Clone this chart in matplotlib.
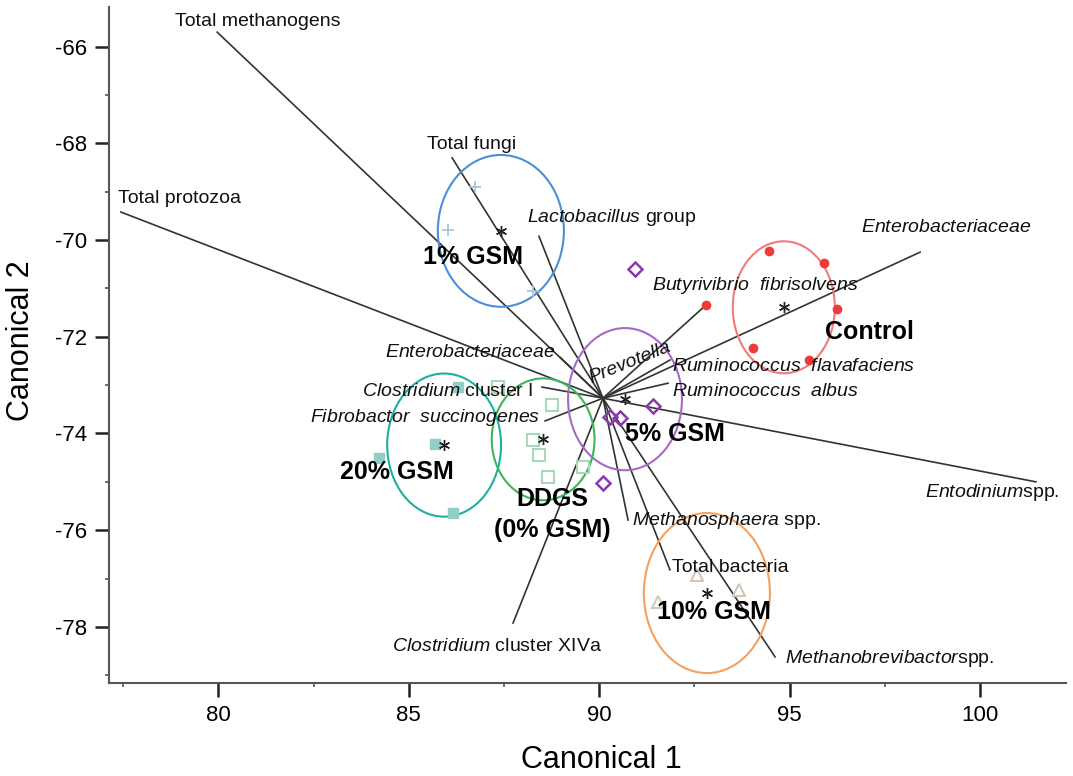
import numpy as np
import matplotlib.pyplot as plt
from matplotlib.patches import Ellipse

plt.rcParams['font.family'] = ['Liberation Sans', 'DejaVu Sans']
plt.rcParams['mathtext.fontset'] = 'custom'
plt.rcParams['mathtext.rm'] = 'Liberation Sans'
plt.rcParams['mathtext.it'] = 'Liberation Sans:italic'
plt.rcParams['axes.unicode_minus'] = False

# grand mean, where all the vectors start
origin = (90.10, -73.27)

# treatment groups
group_names = ['Control', '1% GSM', '5% GSM', '10% GSM', '20% GSM', 'DDGS\n(0% GSM)']
mean_x = [94.85, 87.42, 90.68, 92.83, 85.93, 88.53]
mean_y = [-71.39, -69.81, -73.29, -77.30, -74.24, -74.12]
circle_w = [2.68, 3.31, 2.99, 3.31, 2.99, 2.70]
circle_h = [2.73, 3.14, 2.94, 3.31, 2.96, 2.52]

# individual animals per group
control_x = [94.46, 95.90, 96.25, 94.04, 95.51, 92.81]
control_y = [-70.23, -70.48, -71.43, -72.23, -72.48, -71.34]
gsm1_x = [86.74, 86.03, 88.26]
gsm1_y = [-68.90, -69.79, -71.05]
gsm5_x = [90.28, 90.55, 91.41, 90.10, 90.94]
gsm5_y = [-73.66, -73.68, -73.43, -75.02, -70.60]
gsm10_x = [91.54, 93.67, 92.57]
gsm10_y = [-77.49, -77.24, -76.93]
gsm20_x = [86.29, 85.69, 84.22, 86.16]
gsm20_y = [-73.04, -74.22, -74.51, -75.65]
ddgs_x = [87.34, 88.76, 88.26, 88.42, 88.66, 89.58]
ddgs_y = [-73.04, -73.41, -74.13, -74.45, -74.90, -74.69]

# microbial vectors (end points)
ray_names = ['Total methanogens', 'Total protozoa', 'Total fungi', 'Lactobacillus group',
             'Enterobacteriaceae', 'Clostridium cluster I', 'Fibrobactor succinogenes',
             'Clostridium cluster XIVa', 'Methanosphaera spp.', 'Total bacteria',
             'Methanobrevibactor spp.', 'Entodinium spp.', 'Ruminococcus albus',
             'Ruminococcus flavafaciens', 'Butyrivibrio fibrisolvens', 'Enterobacteriaceae']
ray_x = [79.97, 77.44, 86.14, 88.42, 88.97, 88.50, 88.58, 87.74, 90.76, 91.86,
         94.62, 101.47, 91.81, 91.86, 92.81, 98.43]
ray_y = [-65.70, -69.42, -68.30, -69.92, -72.42, -73.04, -73.74, -77.92, -75.79, -76.82,
         -78.62, -75.00, -72.96, -72.48, -71.34, -70.25]

# vector labels: text, x, y, ha
vec_labels = [
    ('Total methanogens', 78.86, -65.49, 'left'),
    ('Total protozoa', 77.37, -69.15, 'left'),
    ('Total fungi', 85.48, -68.03, 'left'),
    (r'$Lactobacillus$ group', 88.11, -69.54, 'left'),
    (r'$Butyrivibrio\ \ fibrisolvens$', 96.80, -70.93, 'right'),
    (r'$Enterobacteriaceae$', 96.87, -69.73, 'left'),
    (r'$Ruminococcus\ \ flavafaciens$', 91.91, -72.61, 'left'),
    (r'$Ruminococcus\ \ albus$', 91.91, -73.14, 'left'),
    (r'$Enterobacteriaceae$', 88.84, -72.32, 'right'),
    (r'$Clostridium$ cluster I', 88.26, -73.14, 'right'),
    (r'$Fibrobactor\ \ succinogenes$', 88.45, -73.66, 'right'),
    (r'$Methanosphaera$ spp.', 90.86, -75.79, 'left'),
    ('Total bacteria', 91.91, -76.78, 'left'),
    (r'$Methanobrevibactor$spp.', 94.88, -78.66, 'left'),
    (r'$Entodinium$spp.', 98.56, -75.23, 'left'),
    (r'$Clostridium$ cluster XIVa', 84.56, -78.41, 'left'),
]

# where the group names sit
group_label_x = [95.93, 85.37, 90.68, 91.52, 83.19, 88.76]
group_label_y = [-71.90, -70.35, -74.01, -77.69, -74.80, -75.68]
group_label_ha = ['left', 'left', 'left', 'left', 'left', 'center']

circle_colors = ['#f27a7a', '#4a8fd8', '#a868c8', '#f4a060', '#1bb0a0', '#3cb45a']

fig = plt.figure(figsize=(10.73, 7.76), dpi=100)
ax = fig.add_axes([109 / 1073, 1 - 683 / 776, 957 / 1073, 676 / 776])

# vectors
for ex, ey in zip(ray_x, ray_y):
    ax.plot([origin[0], ex], [origin[1], ey], color='#333333', lw=1.2, zorder=2)

for txt, tx, ty, ha in vec_labels:
    ax.text(tx, ty, txt, ha=ha, va='center', fontsize=14, color='#111111', zorder=5)
ax.text(90.81, -72.54, 'Prevotella', style='italic', fontsize=14, rotation=22,
        ha='center', va='center', color='#111111', zorder=5)

# group circles and means
for i in range(len(group_names)):
    ax.add_patch(Ellipse((mean_x[i], mean_y[i]), circle_w[i], circle_h[i], fill=False,
                         edgecolor=circle_colors[i], lw=1.5, zorder=3))
    ax.plot(mean_x[i], mean_y[i], marker=(6, 2, 0), color='#222222', ms=8, mew=1.0, zorder=6)
    ax.text(group_label_x[i], group_label_y[i], group_names[i], ha=group_label_ha[i],
            va='center', fontsize=18, fontweight='bold', linespacing=1.35, zorder=6)

# individual points
ax.plot(control_x, control_y, 'o', color='#f03a3a', ms=6, zorder=4)
ax.plot(gsm1_x, gsm1_y, '+', color='#aac4e6', ms=9, mew=1.3, zorder=4)
ax.plot(gsm5_x, gsm5_y, 'D', mfc='none', mec='#8a3aa8', ms=7, mew=1.8, zorder=4)
ax.plot(gsm10_x, gsm10_y, '^', mfc='none', mec='#d6c6b8', ms=8, mew=1.5, zorder=4)
ax.plot(gsm20_x, gsm20_y, 's', color='#92cdc6', ms=7, zorder=4)
ax.plot(ddgs_x, ddgs_y, 's', mfc='none', mec='#a8d8b8', ms=9, mew=1.5, zorder=4)

ax.set_xlim(77.13, 102.26)
ax.set_ylim(-79.16, -65.18)
ax.set_xticks([80, 85, 90, 95, 100])
ax.set_xticks([77.5, 82.5, 87.5, 92.5, 97.5], minor=True)
ax.set_yticks([-66, -68, -70, -72, -74, -76, -78])
ax.set_yticks([-67, -69, -71, -73, -75, -77, -79], minor=True)
ax.tick_params(which='major', length=10, width=1.8, labelsize=16, color='#222222', pad=6)
ax.tick_params(which='minor', length=3, width=1.2, color='#555555')
for s in ['top', 'right']:
    ax.spines[s].set_visible(False)
for s in ['left', 'bottom']:
    ax.spines[s].set_color('#555555')
    ax.spines[s].set_linewidth(1.5)

ax.set_xlabel('Canonical 1', fontsize=22)
ax.set_ylabel('Canonical 2', fontsize=22)
ax.xaxis.set_label_coords(0.515, -0.092)
ax.yaxis.set_label_coords(-0.076, 0.507)

fig.savefig('out.png', dpi=100)
